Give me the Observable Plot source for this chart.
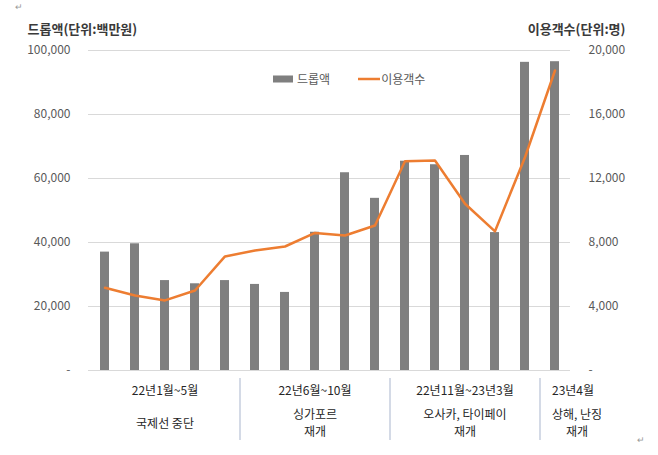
<!DOCTYPE html>
<html><head><meta charset="utf-8">
<script src="https://cdn.jsdelivr.net/npm/d3@7"></script>
<script src="https://cdn.jsdelivr.net/npm/@observablehq/plot@0.6"></script>
<style>
body{margin:0;background:#fff;}
#wrap{position:relative;width:658px;height:455px;font-family:"Noto Sans CJK KR","Noto Sans",sans-serif;background:#fff;}
#wrap svg{display:block;overflow:visible}
.legend{position:absolute;top:70px;left:273px;font-size:12px;color:#595959;display:flex;align-items:center;white-space:nowrap}
.legend svg{display:inline-block}
.mark{position:absolute;font-size:9px;color:#999;}
</style></head>
<body><div id="wrap"></div>
<script>
const months = ["22.1","22.2","22.3","22.4","22.5","22.6","22.7","22.8","22.9","22.10","22.11","22.12","23.1","23.2","23.3","23.4"];
const dropAmount = [37000, 39600, 28100, 27100, 28100, 26900, 24400, 43200, 61800, 53800, 65400, 64300, 67200, 43100, 96300, 96500];
const visitors = [5170, 4690, 4380, 5000, 7130, 7500, 7750, 8600, 8440, 9060, 13080, 13130, 10420, 8700, 13330, 18750];
const groupStart = ["22.1","22.6","22.11","23.4"];
const groupMid = ["22.3","22.8","23.1","23.4"];
const groupPeriods = ["22년1월~5월","22년6월~10월","22년11월~23년3월","23년4월"];
const groupEvents = ["국제선 중단","싱가포르\n재개","오사카, 타이페이\n재개","상해, 난징\n재개"];
const leftTicks = [0, 20000, 40000, 60000, 80000, 100000];
const rightTicks = [0, 4000, 8000, 12000, 16000, 20000];
const leftTitle = "드롭액(단위:백만원)";
const rightTitle = "이용객수(단위:명)";
const seriesNames = ["드롭액", "이용객수"];

const ratio = leftTicks[leftTicks.length-1] / rightTicks[rightTicks.length-1];
const fmt = d => d === 0 ? "-" : d3.format(",")(d);
const data = months.map((m, i) => ({month: m, drop: dropAmount[i], visitors: visitors[i]}));
const groups = groupStart.map((s, i) => ({start: s, mid: groupMid[i], period: groupPeriods[i], event: groupEvents[i]}));
const font = '"Noto Sans CJK KR","Noto Sans",sans-serif';
const xOpts = {type: "band", domain: months, paddingInner: 0.7, paddingOuter: 0.35, axis: null};

const topPlot = Plot.plot({
  width: 658, height: 374, marginTop: 50, marginBottom: 4, marginLeft: 88, marginRight: 88,
  style: {fontFamily: font, fontSize: "12px", background: "transparent", overflow: "visible"},
  x: xOpts,
  y: {domain: [0, leftTicks[leftTicks.length-1]], axis: null},
  marks: [
    Plot.ruleY(leftTicks, {stroke: "#d9d9d9", strokeWidth: 1}),
    Plot.axisY({anchor: "left", ticks: leftTicks, tickSize: 0, tickPadding: 18, tickFormat: fmt, fill: "#595959", label: null, fontSize: 12}),
    Plot.axisY({anchor: "right", ticks: rightTicks.map(v => v * ratio), tickSize: 0, tickPadding: 18, tickFormat: d => fmt(Math.round(d / ratio)), fill: "#595959", label: null, fontSize: 12}),
    Plot.barY(data, {x: "month", y: "drop", fill: "#7f7f7f"}),
    Plot.line(data, {x: "month", y: d => d.visitors * ratio, stroke: "#ED7D31", strokeWidth: 2.5, curve: "linear"}),
    Plot.text([leftTitle], {text: d => d, frameAnchor: "top-left", dx: -61, dy: -21, textAnchor: "start", lineAnchor: "middle", fontSize: 13, fontWeight: "bold", fill: "#3a3a3a"}),
    Plot.text([rightTitle], {text: d => d, frameAnchor: "top-right", dx: 55, dy: -21, textAnchor: "end", lineAnchor: "middle", fontSize: 13, fontWeight: "bold", fill: "#3a3a3a"})
  ]
});

const bottomPlot = Plot.plot({
  width: 658, height: 81, marginTop: 0, marginBottom: 0, marginLeft: 88, marginRight: 88,
  style: {fontFamily: font, fontSize: "12px", background: "transparent", overflow: "visible"},
  x: xOpts,
  y: {axis: null},
  marks: [
    Plot.ruleX(groups.slice(1), {x: "start", dx: -15, stroke: "#b8c2d6", strokeWidth: 1.2, insetTop: 4, insetBottom: 15}),
    Plot.text(groups.slice(0, 3), {x: "mid", text: "period", frameAnchor: "top", dy: 17, lineAnchor: "middle", fontSize: 12, fill: "#262626"}),
    Plot.text(groups.slice(0, 3), {x: "mid", text: "event", frameAnchor: "top", dy: 48, lineAnchor: "middle", lineHeight: 1.4, fontSize: 12, fill: "#262626"}),
    Plot.text(groups.slice(3), {x: "mid", text: "period", frameAnchor: "top", dx: 18, dy: 17, lineAnchor: "middle", fontSize: 12, fill: "#262626"}),
    Plot.text(groups.slice(3), {x: "mid", text: "event", frameAnchor: "top", dx: 22, dy: 48, lineAnchor: "middle", lineHeight: 1.4, fontSize: 12, fill: "#262626"})
  ]
});

const wrap = document.getElementById("wrap");
wrap.appendChild(topPlot);
wrap.appendChild(bottomPlot);

const legend = document.createElement("div");
legend.className = "legend";
legend.innerHTML =
  `<svg width="20" height="8"><rect width="20" height="7" y="0.5" fill="#7f7f7f"></rect></svg>` +
  `<span style="margin-left:4px">${seriesNames[0]}</span>` +
  `<svg width="22" height="8" style="margin-left:28px"><line x1="0" x2="22" y1="4" y2="4" stroke="#ED7D31" stroke-width="2.5"></line></svg>` +
  `<span style="margin-left:1px">${seriesNames[1]}</span>`;
wrap.appendChild(legend);

const m1 = document.createElement("div"); m1.className = "mark"; m1.style.left = "15px"; m1.style.top = "0px"; m1.textContent = "↵";
const m2 = document.createElement("div"); m2.className = "mark"; m2.style.left = "637px"; m2.style.top = "433px"; m2.textContent = "↵";
wrap.appendChild(m1); wrap.appendChild(m2);
</script>
</body></html>
